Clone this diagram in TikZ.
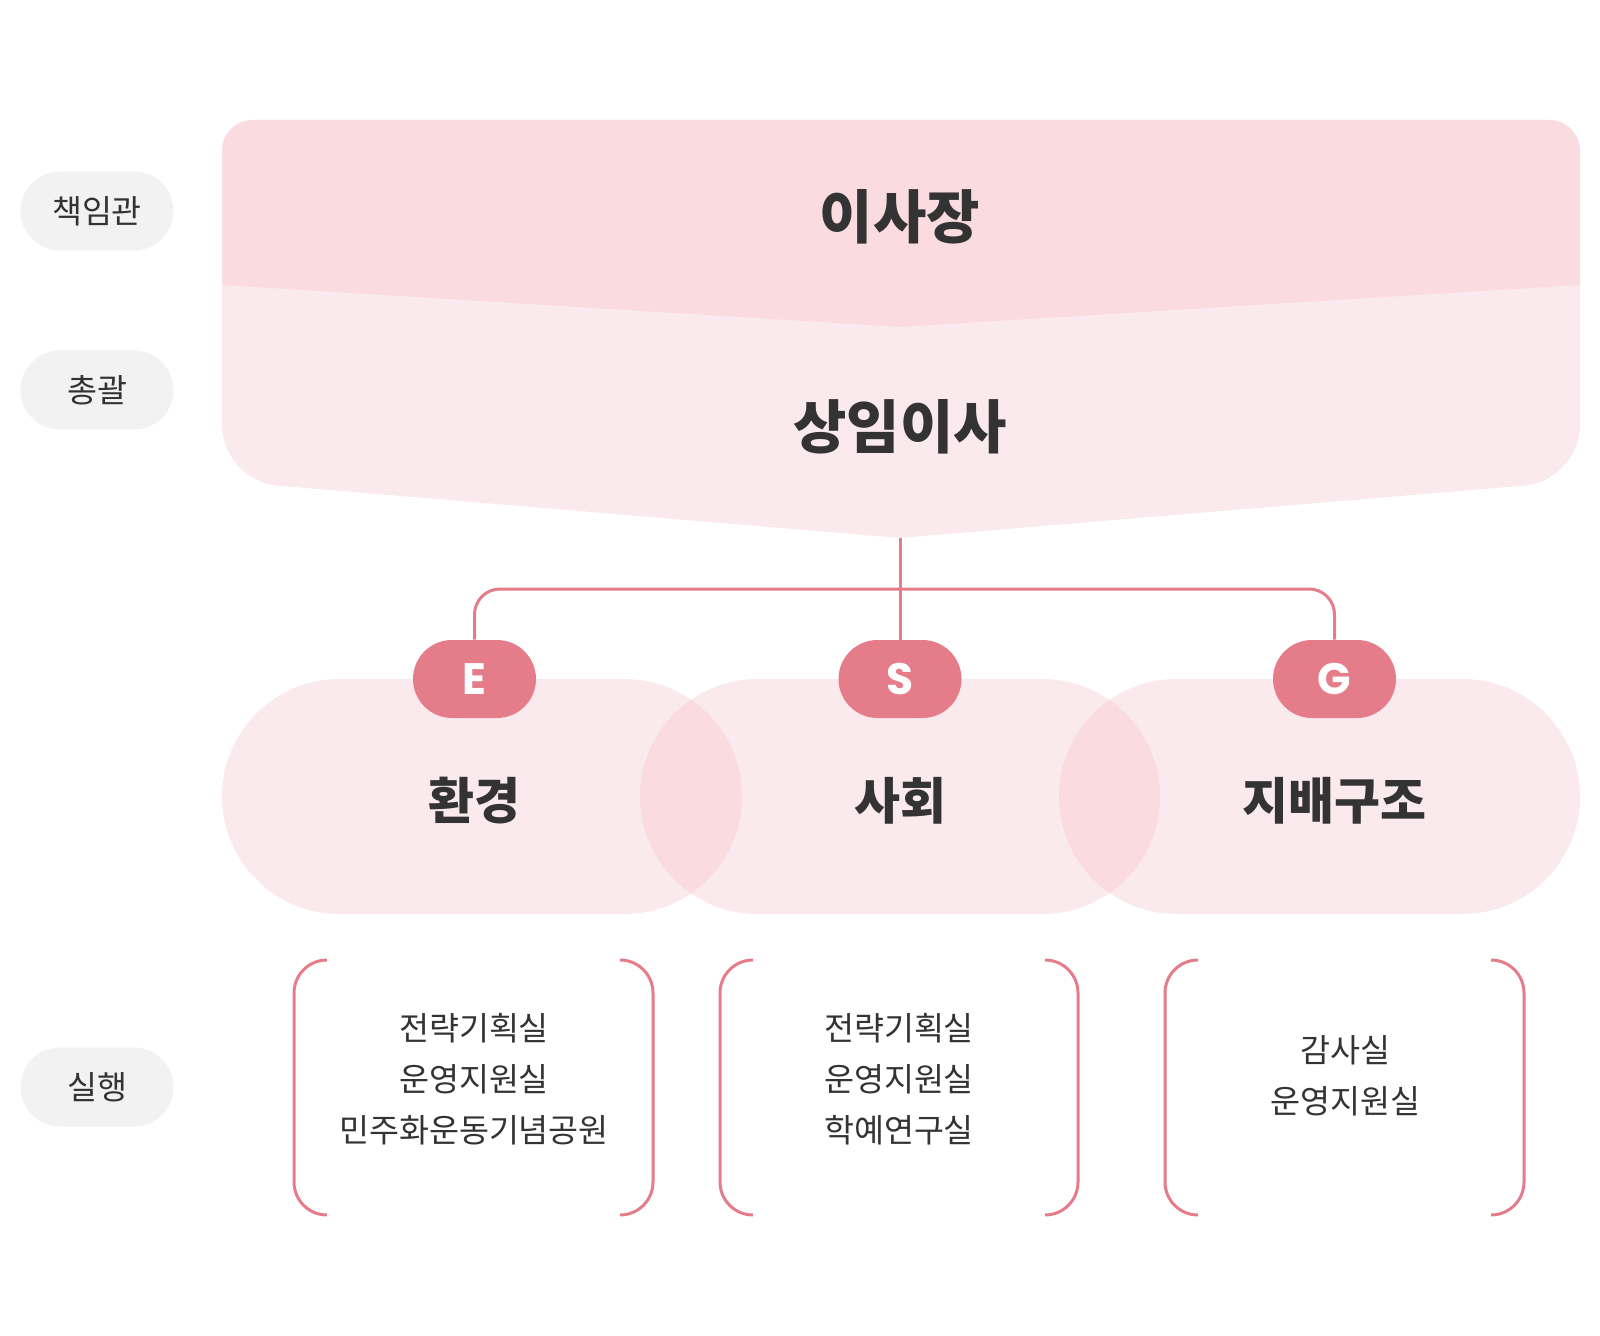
\documentclass[tikz,border=0pt]{standalone}
\usepackage{fontspec}
\setmainfont{Noto Sans CJK KR}
\newfontfamily\latfont{Poppins}
\usetikzlibrary{positioning}
\definecolor{bandpink}{HTML}{FADBDF}
\definecolor{lanepink}{HTML}{FBEAED}
\definecolor{rosepink}{HTML}{E57C8A}
\definecolor{pillgray}{HTML}{F2F2F2}
\definecolor{inkgray}{HTML}{333333}
\begin{document}
\begin{tikzpicture}[x=0.5pt, y=-0.5pt, every node/.style={text=inkgray, inner sep=0pt},
  title/.style={font=\fontsize{29}{32}\selectfont\bfseries},
  area/.style={font=\fontsize{25}{28}\selectfont\bfseries},
  tag/.style={fill=rosepink, text=white, rounded corners=19.5pt, minimum width=61.5pt, minimum height=39pt, font=\latfont\fontsize{22}{23}\selectfont\bfseries},
  side/.style={fill=pillgray, rounded corners=19.75pt, minimum width=76.5pt, minimum height=39.5pt, font=\fontsize{16.3}{19}\selectfont},
  unit/.style={align=center, font=\fontsize{16.3}{25.5}\selectfont},
  bracket/.style={draw=rosepink, line width=1.5pt, rounded corners=16.5pt},
  lane/.style={fill=lanepink, rounded corners=58.75pt},
  link/.style={draw=rosepink, line width=1.5pt}]
\useasboundingbox (0,0) rectangle (1600,1336);
% top block
\fill[lanepink] (900,538) [rounded corners=28pt] -- (222,481) [rounded corners=15.5pt] -- (222,120) -- (1580,120) [rounded corners=28pt] -- (1580,481) [sharp corners] -- cycle;
\fill[bandpink] (900,327) -- (222,285) [rounded corners=15.5pt] -- (222,120) -- (1580,120) [sharp corners] -- (1580,285) -- cycle;
\node[title] (chair) at (900,217) {이사장};
\node[title] (exec) at (900,427) {상임이사};
\coordinate (tip) at (900,538);
\coordinate (hub) at (900,589);
% E S G lanes
\fill[lane] (222,679) rectangle (742,914);
\fill[lane] (640,679) rectangle (1160,914);
\fill[lane] (1059,679) rectangle (1580,914);
\begin{scope}
\clip[rounded corners=58.75pt] (222,679) rectangle (742,914);
\fill[bandpink, rounded corners=58.75pt] (640,679) rectangle (1160,914);
\end{scope}
\begin{scope}
\clip[rounded corners=58.75pt] (640,679) rectangle (1160,914);
\fill[bandpink, rounded corners=58.75pt] (1059,679) rectangle (1580,914);
\end{scope}
\node[tag] (E) at (474.5,679) {E};
\node[tag] (S) at (900,679) {S};
\node[tag] (G) at (1334.5,679) {G};
\draw[link] (tip) -- (S.north);
\draw[link, rounded corners=12.75pt] (E.north) |- (hub) -| (G.north);
\node[area] (env) at (474.5,801) {환경};
\node[area] (soc) at (900,801) {사회};
\node[area] (gov) at (1334.5,801) {지배구조};
% side labels
\node[side] (resp) at (97,211) {책임관};
\node[side] (ovr) at (97,390) {총괄};
\node[side] (act) at (97,1087) {실행};
% units
\draw[bracket] (327,960) -- (294,960) -- (294,1215) -- (327,1215);
\draw[bracket] (620,960) -- (653,960) -- (653,1215) -- (620,1215);
\draw[bracket] (753,960) -- (720,960) -- (720,1215) -- (753,1215);
\draw[bracket] (1045,960) -- (1078,960) -- (1078,1215) -- (1045,1215);
\draw[bracket] (1198,960) -- (1165,960) -- (1165,1215) -- (1198,1215);
\draw[bracket] (1491,960) -- (1524,960) -- (1524,1215) -- (1491,1215);
\node[unit] (envunit) at (474,1079) {전략기획실\\운영지원실\\민주화운동기념공원};
\node[unit] (socunit) at (899,1079) {전략기획실\\운영지원실\\학예연구실};
\node[unit] (govunit) at (1345,1076) {감사실\\운영지원실};
\end{tikzpicture}
\end{document}
